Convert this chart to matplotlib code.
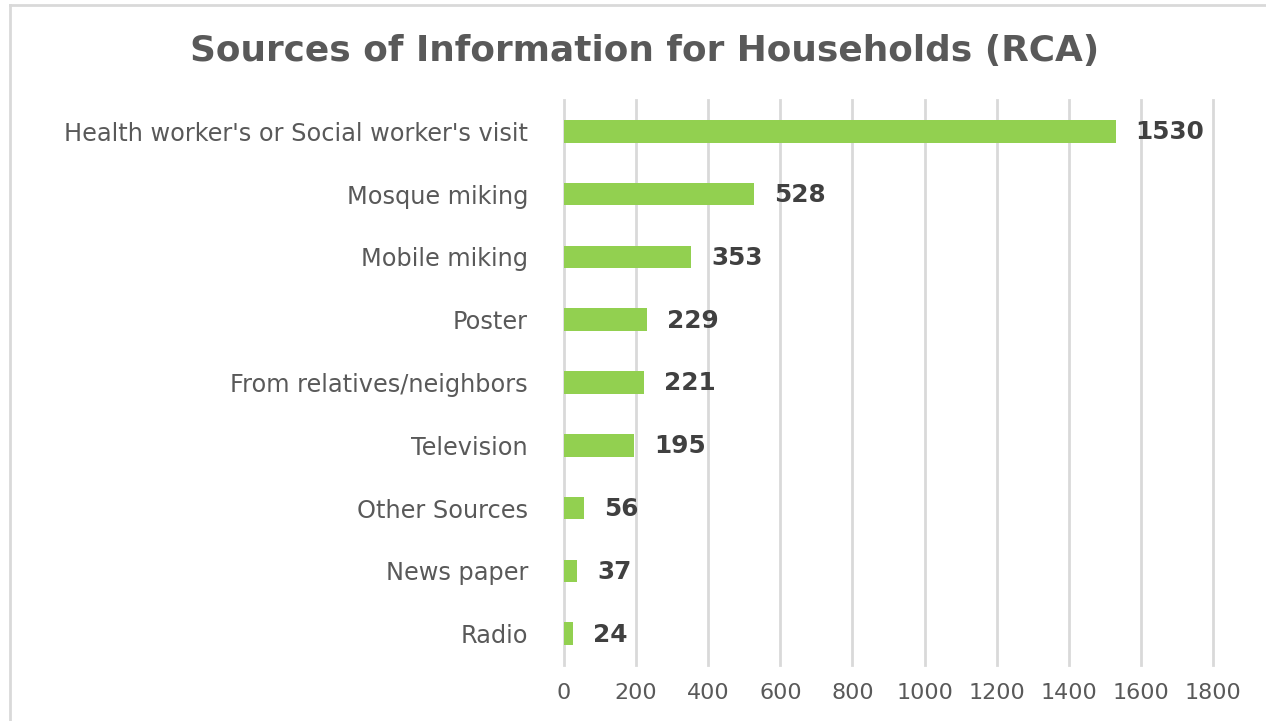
import matplotlib
matplotlib.use("Agg")
import matplotlib.pyplot as plt
from matplotlib.lines import Line2D

categories = ["Health worker's or Social worker's visit", "Mosque miking", "Mobile miking",
              "Poster", "From relatives/neighbors", "Television", "Other Sources",
              "News paper", "Radio"]
values = [1530, 528, 353, 229, 221, 195, 56, 37, 24]
xticks = [0, 200, 400, 600, 800, 1000, 1200, 1400, 1600, 1800]
title = "Sources of Information for Households (RCA)"

plt.rcParams['font.family'] = ['DejaVu Sans']

W, H = 1266, 721
fig = plt.figure(figsize=(W / 100, H / 100), dpi=100)
ax = fig.add_axes([564 / W, 1 - 665 / H, (1213 - 564) / W, (665 - 100) / H])

ypos = list(range(len(categories)))
ax.barh(ypos, values, height=0.36, color="#92D050", zorder=3)
ax.set_ylim(len(categories) - 0.5, -0.5)
ax.set_xlim(0, 1800)
ax.set_xticks(xticks)
ax.set_xticklabels([str(t) for t in xticks])
ax.set_yticks(ypos)
ax.set_yticklabels(categories)
ax.tick_params(axis='y', length=0, labelsize=17.3, labelcolor="#595959", pad=26)
ax.tick_params(axis='x', length=0, labelsize=16, labelcolor="#595959", pad=13)
ax.grid(axis='x', color="#D9D9D9", linewidth=2, zorder=0)
for gl in ax.get_xgridlines():
    gl.set_clip_on(False)
for s in ax.spines.values():
    s.set_visible(False)

for y, v in zip(ypos, values):
    ax.annotate(str(v), (v, y), xytext=(20, -1), textcoords='offset pixels',
                va='center', ha='left', fontsize=17.8, fontweight='bold', color="#404040")

fig.text(645 / W, 1 - 51 / H, title, ha='center', va='center', fontsize=25.8,
         fontweight='bold', color="#595959")

# outer chart border (top and left visible)
fig.add_artist(Line2D([10 / W, 10 / W], [0, 1 - 5 / H], transform=fig.transFigure,
                      color="#D9D9D9", linewidth=2))
fig.add_artist(Line2D([10 / W, 1], [1 - 5 / H, 1 - 5 / H], transform=fig.transFigure,
                      color="#D9D9D9", linewidth=2))

fig.savefig("out.png", dpi=100)
